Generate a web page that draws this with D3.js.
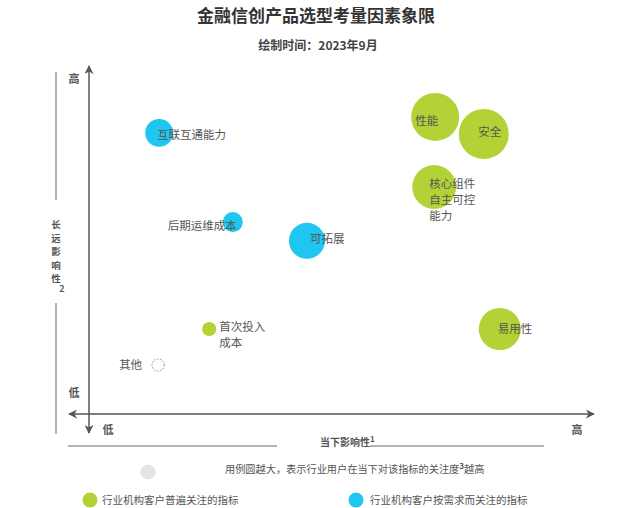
<!DOCTYPE html>
<html><head><meta charset="utf-8">
<script src="https://cdn.jsdelivr.net/npm/d3@7"></script>
<style>
body{margin:0;background:#fff;}
text{font-family:"Noto Sans CJK SC","Noto Sans",sans-serif;}
</style></head>
<body><svg id="c" width="634" height="508"></svg>
<script>
// ---- data ----
const names = ["互联互通能力","性能","安全","核心组件自主可控能力","后期运维成本","可拓展","首次投入成本","其他","易用性"];
const currentImpact = [14.0, 69.1, 78.8, 68.9, 28.7, 43.5, 24.0, 13.8, 82.0];   // x
const longTermImpact = [81.0, 85.6, 80.7, 65.4, 55.3, 49.9, 24.5, 14.1, 24.5]; // y
const attention = [31, 92, 100, 77, 16, 52, 8, 6, 71];                          // bubble size
const groups = ["demand","common","common","common","demand","demand","common","other","common"];
const labelLines = [["互联互通能力"],["性能"],["安全"],["核心组件","自主可控","能力"],["后期运维成本"],["可拓展"],["首次投入","成本"],["其他"],["易用性"]];
const axisTicks = {low:"低", high:"高"};
const legendTexts = ["用例圆越大，表示行业用户在当下对该指标的关注度","越高","行业机构客户普遍关注的指标","行业机构客户按需求而关注的指标"];

// ---- layout / style ----
const colors = {common:"#b3d235", demand:"#1fc7f0", other:"#ffffff"};
const labelPos = [ // dx, dy, anchor relative to bubble center
  [-2,2,"start"],[-20,4,"start"],[6,-2,"middle"],[-5,-3,"start"],[4,4,"end"],[3,-2,"start"],[10,-2,"start"],[-16,0,"end"],[-2,0,"start"]
];
const svg = d3.select("#c");
const x = d3.scaleLinear().domain([0,100]).range([89,590]);
const y = d3.scaleLinear().domain([0,100]).range([414,67]);
const r = d3.scaleSqrt().domain([0,100]).range([0,25]);

// title
svg.append("text").attr("x",316).attr("y",22).attr("text-anchor","middle")
  .attr("font-size",17).attr("font-weight","bold").attr("fill","#333").text("金融信创产品选型考量因素象限");
svg.append("text").attr("x",318).attr("y",50).attr("text-anchor","middle")
  .attr("font-size",12).attr("font-weight","bold").attr("fill","#444").text("绘制时间：2023年9月");

// arrow marker
const defs = svg.append("defs");
defs.append("marker").attr("id","arr").attr("viewBox","0 0 10 10").attr("refX",9).attr("refY",5)
  .attr("markerWidth",9).attr("markerHeight",9).attr("markerUnits","userSpaceOnUse").attr("orient","auto-start-reverse")
  .append("path").attr("d","M0,0 L10,5 L0,10 L3,5 Z").attr("fill","#555");

// axes
svg.append("line").attr("x1",x(0)).attr("x2",x(0)).attr("y1",433).attr("y2",66)
  .attr("stroke","#555").attr("stroke-width",1.5).attr("marker-start","url(#arr)").attr("marker-end","url(#arr)");
svg.append("line").attr("x1",69).attr("x2",594).attr("y1",y(0)).attr("y2",y(0))
  .attr("stroke","#555").attr("stroke-width",1.5).attr("marker-start","url(#arr)").attr("marker-end","url(#arr)");

const tickStyle = s => s.attr("font-size",11).attr("font-weight","bold").attr("fill","#555");
svg.append("text").attr("x",74).attr("y",83).attr("text-anchor","middle").call(tickStyle).text(axisTicks.high);
svg.append("text").attr("x",74).attr("y",397).attr("text-anchor","middle").call(tickStyle).text(axisTicks.low);
svg.append("text").attr("x",108).attr("y",434).attr("text-anchor","middle").call(tickStyle).text(axisTicks.low);
svg.append("text").attr("x",577).attr("y",434).attr("text-anchor","middle").call(tickStyle).text(axisTicks.high);

// side gray lines and axis titles
const gl = "#9a9a9a";
svg.append("line").attr("x1",56).attr("x2",56).attr("y1",72).attr("y2",200).attr("stroke",gl).attr("stroke-width",1.5);
svg.append("line").attr("x1",56).attr("x2",56).attr("y1",303).attr("y2",434).attr("stroke",gl).attr("stroke-width",1.5);
svg.append("g").selectAll("text").data("长远影响性".split("")).join("text")
  .attr("x",56).attr("y",(d,i)=>228+i*13.5).attr("font-size",9.5).attr("font-weight","bold")
  .attr("fill","#555").attr("text-anchor","middle").text(d=>d);
svg.append("text").attr("x",62).attr("y",292).attr("font-size",9).attr("font-weight","bold").attr("fill","#555").attr("text-anchor","middle").text("2");

svg.append("line").attr("x1",68).attr("x2",277).attr("y1",446).attr("y2",446).attr("stroke",gl).attr("stroke-width",1.5);
svg.append("line").attr("x1",370).attr("x2",544).attr("y1",446).attr("y2",446).attr("stroke",gl).attr("stroke-width",1.5);
const xt = svg.append("text").attr("x",320).attr("y",446).attr("font-size",10).attr("font-weight","bold").attr("fill","#555");
xt.append("tspan").text("当下影响性");
xt.append("tspan").attr("dy",-4).attr("font-size",8).text("1");

// bubbles
const data = names.map((n,i)=>({name:n,x:currentImpact[i],y:longTermImpact[i],a:attention[i],g:groups[i],lines:labelLines[i],lp:labelPos[i]}));
svg.append("g").selectAll("circle").data(data).join("circle")
  .attr("cx",d=>x(d.x)).attr("cy",d=>y(d.y)).attr("r",d=>r(d.a))
  .attr("fill",d=>colors[d.g])
  .attr("stroke",d=>d.g==="other"?"#888":"none")
  .attr("stroke-dasharray",d=>d.g==="other"?"1.5,1.5":null)
  .attr("stroke-width",1);

const lab = svg.append("g").selectAll("text").data(data).join("text")
  .attr("font-size",11.5).attr("fill","#555")
  .attr("text-anchor",d=>d.lp[2]);
lab.each(function(d){
  const t = d3.select(this);
  d.lines.forEach((ln,i)=>{
    t.append("tspan").attr("x",x(d.x)+d.lp[0]).attr("y",y(d.y)+d.lp[1]+4+i*16).text(ln);
  });
});

// legend
svg.append("circle").attr("cx",148).attr("cy",472).attr("r",7.5).attr("fill","#e4e4e4");
const lt = svg.append("text").attr("x",225).attr("y",473).attr("font-size",10.2).attr("fill","#555");
lt.append("tspan").text(legendTexts[0]);
lt.append("tspan").attr("dy",-4).attr("font-size",8).attr("font-weight","bold").text("3");
lt.append("tspan").attr("dy",4).text(legendTexts[1]);
svg.append("circle").attr("cx",90).attr("cy",500).attr("r",7.5).attr("fill",colors.common);
svg.append("text").attr("x",102).attr("y",504).attr("font-size",10.5).attr("fill","#555").text(legendTexts[2]);
svg.append("circle").attr("cx",356).attr("cy",500).attr("r",7.5).attr("fill",colors.demand);
svg.append("text").attr("x",370).attr("y",504).attr("font-size",10.5).attr("fill","#555").text(legendTexts[3]);
</script></body></html>
